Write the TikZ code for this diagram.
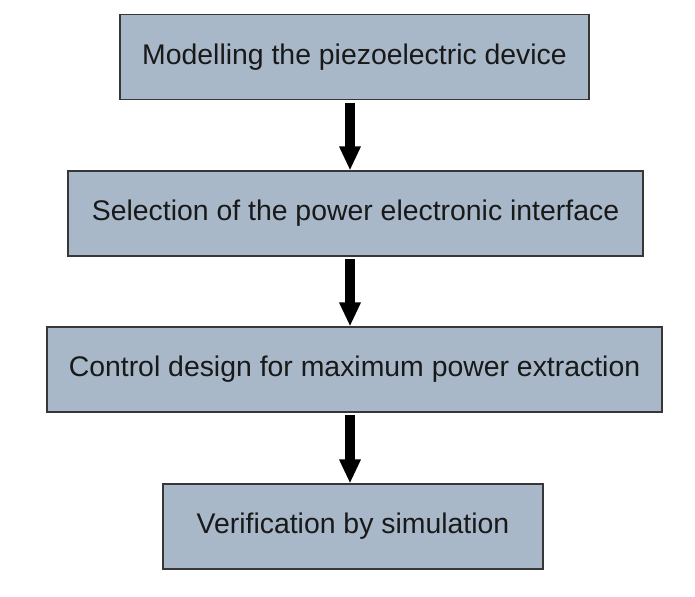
\documentclass[tikz,border=0pt]{standalone}
\usepackage{fontspec}
\setmainfont{Liberation Sans}
\usetikzlibrary{arrows.meta}
\usepackage{xcolor}
\definecolor{boxfill}{RGB}{168,184,201}
\definecolor{boxline}{RGB}{55,55,55}

\begin{document}
\begin{tikzpicture}[x=0.75pt, y=0.75pt,
    every node/.style={rectangle, draw=boxline, line width=1.1pt, fill=boxfill, minimum height=63.5pt, inner sep=0pt, text=black!90, font=\fontsize{21.3}{25}\selectfont},
    flow/.style={line width=7.5pt, shorten <=2pt, -{Triangle[width=15pt, length=18pt]}}]
    \useasboundingbox (0,0) rectangle (695,-596);
    \coordinate (axis) at (350,0);
    \node[minimum width=351.75pt] (model) at (354.5,-57) {Modelling the piezoelectric device};
    \node[minimum width=431.25pt] (select) at (355.5,-213.5) {Selection of the power electronic interface};
    \node[minimum width=461.25pt] (control) at (354.5,-369.5) {Control design for maximum power extraction};
    \node[minimum width=285pt] (verify) at (353,-526.5) {Verification by simulation};
        \draw[flow] (model.south -| axis) -- (select.north -| axis);
        \draw[flow] (select.south -| axis) -- (control.north -| axis);
        \draw[flow] (control.south -| axis) -- (verify.north -| axis);
\end{tikzpicture}
\end{document}
